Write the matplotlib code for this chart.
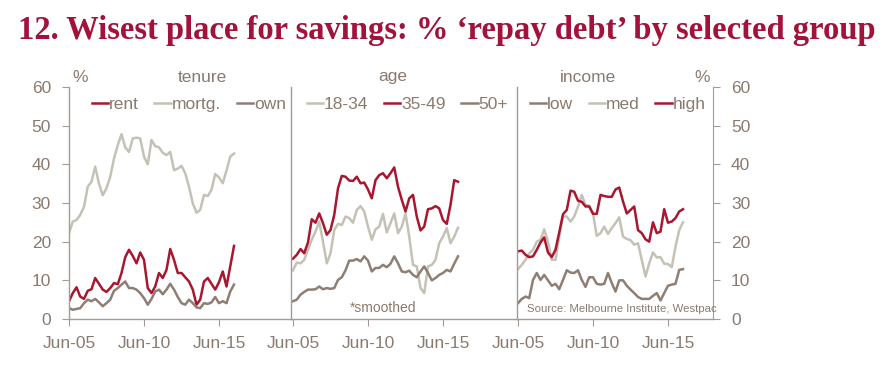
import matplotlib
matplotlib.use("Agg")
import matplotlib.pyplot as plt
import matplotlib.dates as mdates
import pandas as pd
import numpy as np

# ---------------- data (quarterly, from Jun-05) ----------------
dates = pd.date_range("2005-06-01", periods=45, freq="3MS")

tenure_rent = [4.6, 6.7, 8.2, 5.8, 5.2, 7.3, 7.7, 10.6, 9.1, 7.6, 7.0, 8.0, 9.3, 9.0, 11.9,
               16.0, 17.9, 16.3, 14.4, 17.2, 15.3, 8.0, 6.7, 8.4, 11.9, 10.6, 12.7, 18.1, 15.3, 11.9,
               11.9, 10.8, 9.7, 7.6, 3.7, 5.0, 9.7, 10.6, 9.1, 7.6, 9.5, 12.3, 8.4, 13.6, 18.9]
tenure_mortg = [22.2, 25.2, 25.6, 26.9, 29.0, 34.2, 35.5, 39.4, 35.0, 32.0, 33.8, 36.8, 41.5, 45.0, 47.8,
                44.4, 43.2, 46.7, 46.9, 46.7, 42.0, 40.0, 46.3, 44.7, 44.4, 43.0, 42.4, 43.2, 38.5, 38.9,
                39.6, 37.7, 34.2, 29.9, 27.5, 28.2, 32.1, 31.8, 33.4, 37.5, 36.6, 35.1, 38.4, 42.0, 42.8]
tenure_own = [2.8, 2.4, 2.6, 2.8, 4.1, 5.0, 4.6, 5.2, 4.3, 3.3, 4.1, 5.0, 7.3, 8.0, 8.9,
              9.7, 8.0, 8.0, 7.6, 6.7, 5.4, 3.7, 5.2, 7.1, 7.6, 6.4, 7.6, 9.1, 7.6, 5.7,
              4.1, 3.7, 5.0, 4.1, 3.0, 2.8, 4.1, 3.9, 4.3, 5.7, 4.1, 4.6, 4.1, 7.1, 8.9]

age_18_34 = [12.6, 14.6, 14.4, 15.3, 17.9, 20.5, 22.6, 25.2, 20.0, 14.4, 17.0, 23.0, 24.6, 24.3, 26.5,
             26.1, 24.9, 28.2, 29.2, 27.8, 23.9, 20.5, 23.2, 23.9, 27.2, 22.4, 24.8, 27.3, 22.2, 23.9,
             27.3, 21.3, 14.0, 13.6, 8.0, 6.7, 13.6, 14.0, 15.3, 19.6, 21.3, 23.5, 19.6, 21.3, 23.6]
age_35_49 = [15.6, 16.6, 18.1, 17.0, 19.8, 25.8, 24.9, 27.3, 24.8, 21.8, 23.0, 26.9, 33.8, 37.0, 36.8,
             35.8, 35.7, 36.8, 35.1, 35.3, 33.5, 31.2, 35.9, 37.2, 37.7, 36.4, 37.7, 39.2, 34.2, 30.8,
             27.8, 31.2, 32.1, 26.5, 22.9, 23.9, 28.4, 28.6, 29.2, 28.6, 25.6, 24.6, 29.5, 35.9, 35.5]
age_50p = [4.6, 5.0, 6.3, 7.0, 7.6, 7.6, 7.7, 8.4, 7.7, 8.0, 7.8, 8.0, 10.1, 10.8, 12.6,
           15.1, 15.1, 15.5, 14.9, 16.2, 15.1, 12.3, 13.2, 13.2, 14.0, 13.4, 14.3, 16.2, 14.4, 12.3,
           12.1, 12.5, 11.4, 10.8, 12.3, 13.6, 11.9, 10.0, 10.6, 11.4, 11.9, 12.7, 12.3, 14.3, 16.2]

inc_low = [4.1, 5.2, 5.8, 5.4, 10.1, 11.9, 10.1, 11.4, 10.0, 8.6, 9.1, 7.7, 10.1, 12.6, 12.0,
           11.9, 12.6, 10.1, 8.3, 10.8, 10.8, 9.1, 8.9, 9.1, 11.9, 9.3, 7.1, 10.0, 10.0, 8.6,
           7.6, 6.7, 5.7, 5.2, 5.2, 5.2, 6.0, 6.7, 4.8, 6.7, 8.6, 8.9, 9.1, 12.7, 12.9]
inc_med = [12.9, 14.0, 15.3, 16.9, 17.9, 20.0, 20.5, 23.2, 20.0, 15.3, 15.3, 21.3, 26.5, 26.5, 25.2,
           26.5, 29.1, 32.1, 29.5, 29.3, 27.3, 21.5, 22.2, 23.9, 22.0, 23.5, 24.8, 26.3, 21.3, 20.7,
           20.4, 19.2, 19.6, 15.3, 11.0, 14.4, 17.2, 15.9, 16.0, 14.3, 14.2, 13.4, 18.7, 23.0, 25.0]
inc_high = [17.5, 17.7, 16.6, 16.0, 16.2, 17.9, 19.8, 21.1, 17.2, 16.0, 17.9, 22.4, 27.1, 28.2, 33.2,
            32.9, 30.6, 30.3, 29.1, 29.1, 27.2, 27.2, 32.1, 31.8, 31.6, 31.6, 33.5, 34.0, 30.4, 27.3,
            28.2, 29.1, 23.0, 22.2, 20.6, 20.0, 25.0, 22.2, 22.6, 28.4, 24.9, 25.2, 26.1, 27.8, 28.4]

panel_titles = ["tenure", "age", "income"]
y_ticks = [0, 10, 20, 30, 40, 50, 60]
x_tick_dates = ["2005-06-01", "2010-06-01", "2015-06-01"]

# ---------------- style ----------------
RED = "#A8172F"
LIGHT = "#C4C2B6"
BROWN = "#8E7E74"
TXT = "#8A7A6F"
SPINE = "#A69A92"
TITLE = "#A3123A"

plt.rcParams["font.family"] = ["Liberation Sans", "DejaVu Sans"]

W, H = 893, 381
fig = plt.figure(figsize=(W / 100, H / 100), dpi=100)


def px_axes(x0, x1, ytop, ybot):
    return fig.add_axes([x0 / W, 1 - ybot / H, (x1 - x0) / W, (ybot - ytop) / H])


top, bot = 87, 319
bounds = [(69, 291), (291, 517), (517, 713)]
# position of Jun-05 (px) in each panel and px per year
jun05_px = [69, 293, 518]
ppy = 15.0
d0 = mdates.date2num(pd.Timestamp("2005-06-01"))

panels = [
    [("rent", tenure_rent, RED), ("mortg.", tenure_mortg, LIGHT), ("own", tenure_own, BROWN)],
    [("18-34", age_18_34, LIGHT), ("35-49", age_35_49, RED), ("50+", age_50p, BROWN)],
    [("low", inc_low, BROWN), ("med", inc_med, LIGHT), ("high", inc_high, RED)],
]
legend_x = [82, 297, 520]
title_cx = [202, 393, 588]

fs = 12.5
for i, ((x0, x1), series) in enumerate(zip(bounds, panels)):
    ax = px_axes(x0, x1, top, bot)
    ax.set_facecolor("none")
    for name, vals, col in series:
        ax.plot(dates, vals, color=col, lw=1.8, label=name)
    left = d0 - (jun05_px[i] - x0) / ppy * 365.25
    right = d0 + (x1 - jun05_px[i]) / ppy * 365.25
    ax.set_xlim(left, right)
    ax.set_ylim(0, 60)
    ax.set_xticks([mdates.date2num(pd.Timestamp(d)) for d in x_tick_dates])
    ax.xaxis.set_major_formatter(mdates.DateFormatter("%b-%y"))
    ax.tick_params(axis="x", direction="out", length=5, color=SPINE, labelcolor=TXT,
                   labelsize=fs, pad=7)
    ax.set_yticks(y_ticks)
    for s in ["top", "right"]:
        ax.spines[s].set_visible(False)
    ax.spines["left"].set_color(SPINE)
    ax.spines["bottom"].set_color(SPINE)
    ax.spines["left"].set_linewidth(1.0)
    ax.spines["bottom"].set_linewidth(1.0)
    if i == 0:
        ax.tick_params(axis="y", direction="out", length=5, color=SPINE, labelcolor=TXT,
                       labelsize=fs, pad=8)
    elif i == 2:
        ax.spines["right"].set_visible(True)
        ax.spines["right"].set_color(SPINE)
        ax.yaxis.tick_right()
        ax.tick_params(axis="y", which="both", left=False, right=True, direction="out",
                       length=5, color=SPINE, labelcolor=TXT, labelsize=fs, pad=8)
    else:
        ax.tick_params(axis="y", left=False, labelleft=False)
    if i == 2:
        ax.tick_params(axis="y", left=False, labelleft=False)
    leg = ax.legend(loc="upper left", bbox_to_anchor=((legend_x[i] - x0) / (x1 - x0), 1.0),
                    ncol=3, frameon=False, handlelength=0.95, handletextpad=0.05,
                    columnspacing=0.9, borderaxespad=0.55, borderpad=0.0,
                    prop={"size": fs})
    for t in leg.get_texts():
        t.set_color(TXT)
    for ln in leg.get_lines():
        ln.set_linewidth(1.8)
    fig.text(title_cx[i] / W, 1 - 77 / H, panel_titles[i],
             ha="center", va="center", color=TXT, fontsize=fs)

fig.text(80 / W, 1 - 77 / H, "%", ha="center", va="center", color=TXT, fontsize=fs)
fig.text(702 / W, 1 - 77 / H, "%", ha="center", va="center", color=TXT, fontsize=fs)
fig.text(383 / W, 1 - 308 / H, "*smoothed", ha="center", va="center", color=TXT, fontsize=10)
fig.text(527 / W, 1 - 309 / H, "Source: Melbourne Institute, Westpac", ha="left", va="center",
         color=TXT, fontsize=8.2)

fig.text(18 / W, 1 - 30 / H, "12. Wisest place for savings: % \u2018repay debt\u2019 by selected group",
         ha="left", va="center", color=TITLE, fontsize=23.5, fontweight="bold",
         family=["Liberation Serif", "DejaVu Serif"])

fig.savefig("out.png", dpi=100)
